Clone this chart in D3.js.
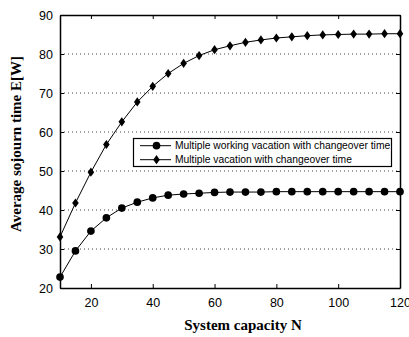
<!DOCTYPE html>
<html>
<head>
<meta charset="utf-8">
<script src="https://cdn.jsdelivr.net/npm/d3@7"></script>
<style>
  body { margin: 0; background: #fff; }
  svg { display: block; }
  .tick text { font-family: "Liberation Sans", Arial, sans-serif; font-size: 12.5px; fill: #000; }
  .title { font-family: "Liberation Serif", "Times New Roman", serif; font-weight: bold; font-size: 15px; }
  .legend text { font-family: "Liberation Sans", Arial, sans-serif; font-size: 10.3px; }
</style>
</head>
<body>
<svg id="chart" width="409" height="337"></svg>
<script>
// System capacity N, one point every 5
var capacity = [10, 15, 20, 25, 30, 35, 40, 45, 50, 55, 60, 65, 70, 75, 80, 85, 90, 95, 100, 105, 110, 115, 120];
var workingVacation = [22.8, 29.5, 34.6, 38.0, 40.5, 42.0, 43.1, 43.8, 44.1, 44.3, 44.5, 44.6, 44.6, 44.6, 44.7, 44.7, 44.7, 44.7, 44.7, 44.7, 44.7, 44.7, 44.7];
var vacation = [33.1, 41.8, 49.7, 56.8, 62.6, 67.7, 71.7, 75.0, 77.6, 79.6, 81.1, 82.1, 83.0, 83.6, 84.1, 84.4, 84.7, 84.9, 85.0, 85.1, 85.1, 85.2, 85.2];
var seriesNames = ["Multiple working vacation with changeover time", "Multiple vacation with changeover time"];
var xTicks = [20, 40, 60, 80, 100, 120];
var yTicks = [20, 30, 40, 50, 60, 70, 80, 90];

(function () {
  var svg = d3.select("#chart");
  var left = 60, right = 400, plotTop = 15, bottom = 288;

  var x = d3.scaleLinear().domain([10, 120]).range([left, right]);
  var y = d3.scaleLinear().domain([20, 90]).range([bottom, plotTop]);

  // dotted horizontal grid
  svg.append("g")
    .selectAll("line")
    .data(yTicks.slice(1, -1))
    .join("line")
    .attr("x1", left).attr("x2", right)
    .attr("y1", function (d) { return y(d); })
    .attr("y2", function (d) { return y(d); })
    .attr("stroke", "#444")
    .attr("stroke-width", 1)
    .attr("stroke-dasharray", "1,3");

  // axes with inward ticks
  var gx = svg.append("g").attr("transform", "translate(0," + bottom + ")")
    .call(d3.axisBottom(x).tickValues(xTicks).tickSizeInner(-4).tickSizeOuter(0).tickPadding(10));
  var gy = svg.append("g").attr("transform", "translate(" + left + ",0)")
    .call(d3.axisLeft(y).tickValues(yTicks).tickSizeInner(-4).tickSizeOuter(0).tickPadding(7));
  var gxTop = svg.append("g").attr("transform", "translate(0," + plotTop + ")")
    .call(d3.axisTop(x).tickValues(xTicks).tickSizeInner(-4).tickSizeOuter(0).tickFormat(""));
  var gyRight = svg.append("g").attr("transform", "translate(" + right + ",0)")
    .call(d3.axisRight(y).tickValues(yTicks).tickSizeInner(-4).tickSizeOuter(0).tickFormat(""));
  [gx, gy, gxTop, gyRight].forEach(function (g) {
    g.select(".domain").attr("stroke", "#000").attr("stroke-width", 1.5);
    g.selectAll(".tick line").attr("stroke", "#000");
  });

  // series
  var line = d3.line()
    .x(function (d) { return x(d[0]); })
    .y(function (d) { return y(d[1]); });

  function pairs(values) {
    return capacity.map(function (n, i) { return [n, values[i]]; });
  }

  var circleSym = d3.symbol().type(d3.symbolCircle).size(46);
  var diamondPath = "M0,-4.6L3.3,0L0,4.6L-3.3,0Z";

  function drawSeries(values, markerPath) {
    var data = pairs(values);
    svg.append("path")
      .datum(data)
      .attr("fill", "none")
      .attr("stroke", "#000")
      .attr("stroke-width", 1)
      .attr("d", line);
    svg.append("g")
      .selectAll("path")
      .data(data)
      .join("path")
      .attr("d", markerPath)
      .attr("transform", function (d) { return "translate(" + x(d[0]) + "," + y(d[1]) + ")"; })
      .attr("fill", "#000");
  }

  drawSeries(workingVacation, circleSym());
  drawSeries(vacation, diamondPath);

  // legend
  var legend = svg.append("g").attr("class", "legend");
  legend.append("rect")
    .attr("x", 133.5).attr("y", 138.5)
    .attr("width", 258).attr("height", 28)
    .attr("fill", "#fff").attr("stroke", "#000").attr("stroke-width", 1.2);
  [circleSym(), diamondPath].forEach(function (p, i) {
    var ly = 145.7 + i * 14;
    legend.append("line")
      .attr("x1", 140).attr("x2", 171)
      .attr("y1", ly).attr("y2", ly)
      .attr("stroke", "#000");
    legend.append("path")
      .attr("d", p)
      .attr("transform", "translate(156.5," + ly + ")")
      .attr("fill", "#000");
    legend.append("text")
      .attr("x", 175).attr("y", ly)
      .attr("dy", "0.35em")
      .text(seriesNames[i]);
  });

  // axis titles
  svg.append("text")
    .attr("class", "title")
    .attr("x", 243).attr("y", 330)
    .attr("text-anchor", "middle")
    .text("System capacity N");
  svg.append("text")
    .attr("class", "title")
    .attr("transform", "translate(21,144) rotate(-90)")
    .attr("text-anchor", "middle")
    .text("Average sojourn time E[W]");
})();
</script>
</body>
</html>
